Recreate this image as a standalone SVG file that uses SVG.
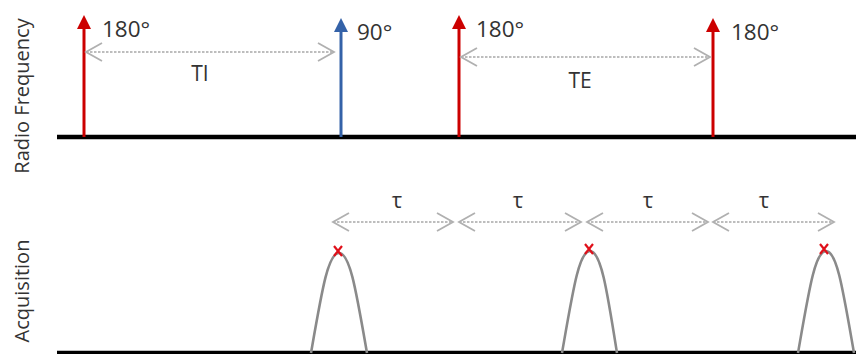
<svg xmlns="http://www.w3.org/2000/svg" width="856" height="354" viewBox="0 0 856 354">
<style>
.txt{font-family:"Open Sans","Liberation Sans",sans-serif;fill:#333333}
.axis{stroke:#000;stroke-width:4.5}
.red{stroke:#cc0000;stroke-width:3}
.blue{stroke:#3462a8;stroke-width:3}
.dim{stroke:#a8a8a8;stroke-width:1.6;stroke-dasharray:2.5 1.5;fill:none}
.echo{stroke:#8a8a8a;stroke-width:2.6;fill:none}
.x{stroke:#e0101a;stroke-width:2.2}
</style>
<defs>
<marker id="hr" viewBox="0 0 14 14" markerWidth="14" markerHeight="14" refX="0" refY="7" orient="auto" markerUnits="userSpaceOnUse"><path d="M0,0 L14,7 L0,14 z" fill="#cc0000"/></marker>
<marker id="hb" viewBox="0 0 14 14" markerWidth="14" markerHeight="14" refX="0" refY="7" orient="auto" markerUnits="userSpaceOnUse"><path d="M0,0 L14,7 L0,14 z" fill="#3462a8"/></marker>
<marker id="ch" viewBox="-1 -1 18 20" markerWidth="18" markerHeight="20" refX="16" refY="9" orient="auto-start-reverse" markerUnits="userSpaceOnUse" overflow="visible"><path d="M0,0 L16,9 L0,18" fill="none" stroke="#b0b0b0" stroke-width="1.8"/></marker>
</defs>

<g id="labels">
<text class="txt" font-size="20" transform="translate(29,96) rotate(-90)" text-anchor="middle">Radio Frequency</text>
<text class="txt" font-size="20" transform="translate(29,291) rotate(-90)" text-anchor="middle">Acquisition</text>
</g>

<g id="axes">
<line class="axis" x1="57" y1="137" x2="856" y2="137"/>
<line class="axis" x1="57" y1="353" x2="856" y2="353"/>
</g>

<g id="pulse-180a">
<line class="red" x1="84" y1="137" x2="84" y2="29" marker-end="url(#hr)"/>
<text class="txt" x="102" y="37" font-size="22.5">180°</text>
</g>
<g id="pulse-90">
<line class="blue" x1="341" y1="137" x2="341" y2="32" marker-end="url(#hb)"/>
<text class="txt" x="357" y="40" font-size="22.5">90°</text>
</g>
<g id="pulse-180b">
<line class="red" x1="459" y1="137" x2="459" y2="29" marker-end="url(#hr)"/>
<text class="txt" x="476" y="37" font-size="22.5">180°</text>
</g>
<g id="pulse-180c">
<line class="red" x1="713" y1="137" x2="713" y2="32" marker-end="url(#hr)"/>
<text class="txt" x="731" y="40" font-size="22.5">180°</text>
</g>

<g id="echo-1">
<path class="echo" d="M311,353 C322,290 328,253 339,253 C350,253 356,290 367,353"/>
<path class="x" d="M334,246 L342,256 M342,246 L334,256"/>
</g>
<g id="echo-2">
<path class="echo" d="M562,353 C573,290 579,251 590,251 C601,251 607,290 617,353"/>
<path class="x" d="M585,244 L593,254 M593,244 L585,254"/>
</g>
<g id="echo-3">
<path class="echo" d="M798,353 C809,290 815,251 826,251 C837,251 843,290 854,353"/>
<path class="x" d="M820,244 L828,254 M828,244 L820,254"/>
</g>

<g id="connectors">
<line class="dim" x1="86" y1="52" x2="334" y2="52" marker-start="url(#ch)" marker-end="url(#ch)"/>
<line class="dim" x1="461" y1="57" x2="710" y2="57" marker-start="url(#ch)" marker-end="url(#ch)"/>
<line class="dim" x1="333" y1="222" x2="453" y2="222" marker-start="url(#ch)" marker-end="url(#ch)"/>
<line class="dim" x1="459" y1="222" x2="581" y2="222" marker-start="url(#ch)" marker-end="url(#ch)"/>
<line class="dim" x1="587" y1="222" x2="708" y2="222" marker-start="url(#ch)" marker-end="url(#ch)"/>
<line class="dim" x1="713" y1="222" x2="834" y2="222" marker-start="url(#ch)" marker-end="url(#ch)"/>
</g>

<g id="interval-labels">
<text class="txt" x="200" y="81" font-size="21" text-anchor="middle">TI</text>
<text class="txt" x="580" y="88" font-size="21" text-anchor="middle">TE</text>
<text class="txt" x="397" y="208" font-size="22" text-anchor="middle">τ</text>
<text class="txt" x="518" y="208" font-size="22" text-anchor="middle">τ</text>
<text class="txt" x="648" y="208" font-size="22" text-anchor="middle">τ</text>
<text class="txt" x="764" y="208" font-size="22" text-anchor="middle">τ</text>
</g>
</svg>
